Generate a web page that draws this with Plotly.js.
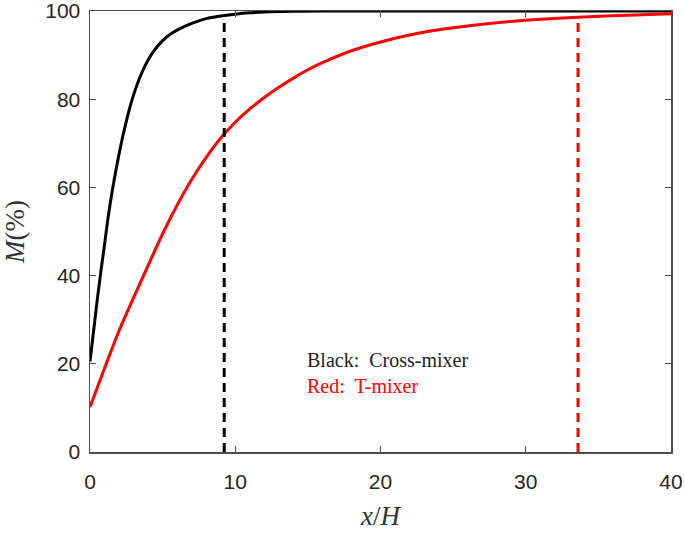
<!DOCTYPE html>
<html>
<head>
<meta charset="utf-8">
<script src="https://cdn.plot.ly/plotly-3.0.1.min.js"></script>
<style>html,body{margin:0;padding:0;background:#fff;}#chart{width:685px;height:534px;}</style>
</head>
<body>
<div id="chart"></div>
<script>
// Cross-mixer (black) mixing curve
const crossX = [0, 0.25, 0.5, 0.75, 1.0, 1.25, 1.5, 1.75, 2.0, 2.25, 2.5, 2.75, 3.0, 3.5, 4.0, 4.5, 5.0, 5.5, 6.0, 7.0, 8.0, 9.0, 10, 11, 12, 14, 16, 20, 25, 30, 35, 40];
const crossY = [20.5, 27.5, 34.5, 41, 47, 53.3, 58.6, 63.3, 67.6, 71.5, 75.0, 78.2, 81.0, 85.5, 88.9, 91.4, 93.3, 94.7, 95.7, 97.2, 98.3, 98.9, 99.3, 99.6, 99.8, 99.95, 100, 100, 100, 100, 100, 100];
// T-mixer (red) mixing curve
const tX = [0, 1, 2, 3, 4, 5, 6, 7, 8, 9, 10, 11, 12, 13, 14, 15, 16, 18, 20, 22.5, 25, 27.5, 30, 33.6, 36.5, 40];
const tY = [10.2, 19, 27.5, 35, 42.3, 49.5, 56, 61.8, 66.8, 71.2, 74.8, 77.8, 80.4, 82.7, 84.8, 86.7, 88.3, 91, 93, 94.9, 96.2, 97.2, 97.9, 98.6, 99.0, 99.4];
// Mixing-length markers (dashed verticals)
const crossLen = 9.24, crossLenM = 99.0;
const tLen = 33.6, tLenM = 98.6;
const xTicks = [0, 10, 20, 30, 40];
const yTicks = [0, 20, 40, 60, 80, 100];
const noteLines = ["Black:&nbsp; Cross-mixer", "Red:&nbsp; T-mixer"];
const noteX = 14.8, noteY = 18.0;

const serif = "'Liberation Serif', 'DejaVu Serif', serif";
const sans = "'Liberation Sans', Arial, sans-serif";

const traces = [
  {x: crossX, y: crossY, mode: 'lines', line: {color: '#000000', width: 3, shape: 'spline', smoothing: 1}, hoverinfo: 'skip'},
  {x: tX, y: tY, mode: 'lines', line: {color: '#ff0000', width: 3, shape: 'spline', smoothing: 1}, hoverinfo: 'skip'},
  {x: [crossLen, crossLen], y: [0, crossLenM], mode: 'lines', line: {color: '#000000', width: 3, dash: '9px,6px'}, hoverinfo: 'skip'},
  {x: [tLen, tLen], y: [0, tLenM], mode: 'lines', line: {color: '#ff0000', width: 3, dash: '9px,6px'}, hoverinfo: 'skip'}
];

const axisCommon = {
  showgrid: false, zeroline: false, showline: true, mirror: 'ticks',
  linecolor: '#4d4d4d', linewidth: 1.5, ticks: 'inside', ticklen: 6, tickwidth: 1.2, tickcolor: '#4d4d4d',
  tickfont: {family: sans, size: 21, color: '#262626'}, ticklabeloverflow: 'allow', automargin: false
};

const layout = {
  width: 685, height: 534,
  margin: {l: 90, r: 14, t: 11, b: 82},
  paper_bgcolor: '#ffffff', plot_bgcolor: '#ffffff',
  showlegend: false,
  xaxis: Object.assign({}, axisCommon, {
    range: [0, 40], tickvals: xTicks, ticktext: xTicks.map(String), ticklabelstandoff: 10,
    title: {text: '<i>x</i>/<i>H</i>', font: {family: serif, size: 27, color: '#333333'}, standoff: 14}
  }),
  yaxis: Object.assign({}, axisCommon, {
    range: [0, 100.02], tickvals: yTicks, ticktext: yTicks.map(String), ticklabelstandoff: 4,
    title: {text: '<i>M</i>(%)', font: {family: serif, size: 27, color: '#333333'}, standoff: 13}
  }),
  annotations: [
    {x: noteX, y: noteY, xref: 'x', yref: 'y', xanchor: 'left', yanchor: 'middle', align: 'left', showarrow: false,
     text: noteLines[0] + '<br><span style="color:#ff0000">' + noteLines[1] + '</span>',
     font: {family: serif, size: 20, color: '#222222'}}
  ]
};

Plotly.newPlot('chart', traces, layout, {displayModeBar: false, staticPlot: true});
</script>
</body>
</html>
